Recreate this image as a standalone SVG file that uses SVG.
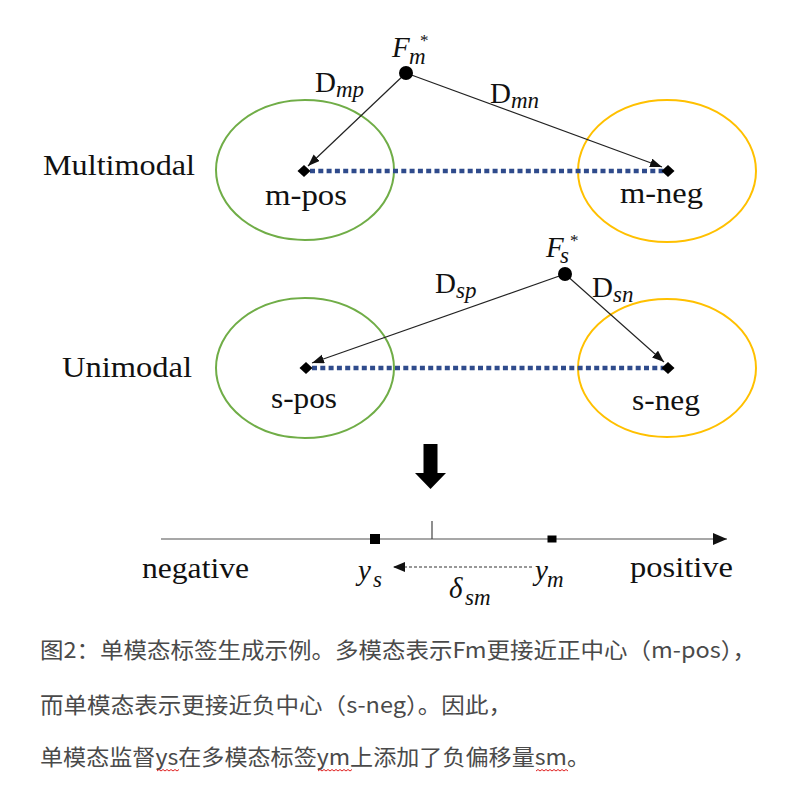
<svg xmlns="http://www.w3.org/2000/svg" width="786" height="797" viewBox="0 0 786 797">
<style>
  .serif { font-family: "Liberation Serif", "Times New Roman", serif; fill: #111; }
  .lbl { font-size: 29px; }
  .it { font-style: italic; }
  .sub { font-size: 23px; font-style: italic; }
  .pos { fill: none; stroke: #70AD47; stroke-width: 2; }
  .neg { fill: none; stroke: #FFC000; stroke-width: 2; }
  .link { stroke: #222; stroke-width: 1.2; fill: none; }
  .dotted { stroke: #2F4B8C; stroke-width: 4.5; stroke-dasharray: 5 3.3; fill: none; }
  .cap { font-family: "Noto Sans CJK SC", "Noto Sans", sans-serif; font-size: 22px; fill: #4a4a4a; }
  .squig { stroke: #e02020; stroke-width: 1; fill: none; }
</style>
<defs>
  <marker id="ah" markerUnits="userSpaceOnUse" markerWidth="14" markerHeight="10" refX="12" refY="4.5" orient="auto">
    <path d="M0,0 L12,4.5 L0,9 z" fill="#111"/>
  </marker>
  <marker id="axh" markerUnits="userSpaceOnUse" markerWidth="16" markerHeight="14" refX="14" refY="6" orient="auto">
    <path d="M0,0 L14,6 L0,12 z" fill="#111"/>
  </marker>
  <marker id="dh" markerUnits="userSpaceOnUse" markerWidth="14" markerHeight="12" refX="12" refY="5" orient="auto">
    <path d="M0,0 L12,5 L0,10 z" fill="#111"/>
  </marker>
</defs>

<rect width="786" height="797" fill="#ffffff"/>

<!-- row labels -->
<g id="label-multimodal"><text class="serif lbl" x="43" y="175" textLength="152" lengthAdjust="spacingAndGlyphs">Multimodal</text></g>
<g id="label-unimodal"><text class="serif lbl" x="62" y="377" textLength="130" lengthAdjust="spacingAndGlyphs">Unimodal</text></g>

<!-- clusters -->
<g id="m-pos-cluster">
  <ellipse class="pos" cx="305" cy="170" rx="89" ry="70"/>
  <text class="serif lbl" x="265" y="205" textLength="82" lengthAdjust="spacingAndGlyphs">m-pos</text>
</g>
<g id="m-neg-cluster">
  <ellipse class="neg" cx="667" cy="171" rx="89" ry="71"/>
  <text class="serif lbl" x="620" y="203" textLength="83" lengthAdjust="spacingAndGlyphs">m-neg</text>
</g>
<g id="s-pos-cluster">
  <ellipse class="pos" cx="305" cy="368" rx="89" ry="70"/>
  <text class="serif lbl" x="271" y="408" textLength="66" lengthAdjust="spacingAndGlyphs">s-pos</text>
</g>
<g id="s-neg-cluster">
  <ellipse class="neg" cx="667" cy="368" rx="89" ry="69"/>
  <text class="serif lbl" x="632" y="410" textLength="68" lengthAdjust="spacingAndGlyphs">s-neg</text>
</g>

<!-- connectors -->
<g id="connectors">
  <line class="dotted" x1="310" y1="171" x2="664" y2="171"/>
  <line class="dotted" x1="312" y1="368" x2="664" y2="368"/>
  <line class="link" x1="406" y1="73" x2="308" y2="166" marker-end="url(#ah)"/>
  <line class="link" x1="406" y1="73" x2="662" y2="167" marker-end="url(#ah)"/>
  <line class="link" x1="565" y1="274" x2="312" y2="363" marker-end="url(#ah)"/>
  <line class="link" x1="565" y1="274" x2="664" y2="362" marker-end="url(#ah)"/>
</g>

<!-- center points -->
<g id="centers">
  <path d="M304,165 L310.5,171 L304,177 L297.5,171 z" fill="#000"/>
  <path d="M668,165 L674.5,171 L668,177 L661.5,171 z" fill="#000"/>
  <path d="M306,362 L312.5,368 L306,374 L299.5,368 z" fill="#000"/>
  <path d="M668,362 L674.5,368 L668,374 L661.5,368 z" fill="#000"/>
</g>

<!-- features -->
<g id="Fm">
  <circle cx="406" cy="73" r="7" fill="#000"/>
  <text class="serif it" font-size="29"><tspan x="392" y="57">F</tspan><tspan x="409" y="64" font-size="23">m</tspan><tspan x="420" y="46" font-size="17" font-style="normal">*</tspan></text>
</g>
<g id="Fs">
  <circle cx="565" cy="274" r="7" fill="#000"/>
  <text class="serif it" font-size="29"><tspan x="546" y="257">F</tspan><tspan x="560" y="263" font-size="23">s</tspan><tspan x="570" y="246" font-size="17" font-style="normal">*</tspan></text>
</g>

<!-- distance labels -->
<g id="dist-labels">
  <text class="serif lbl" x="315" y="92">D<tspan class="sub" dy="5">mp</tspan></text>
  <text class="serif lbl" x="490" y="103">D<tspan class="sub" dy="5">mn</tspan></text>
  <text class="serif lbl" x="435" y="293">D<tspan class="sub" dy="5">sp</tspan></text>
  <text class="serif lbl" x="592" y="297">D<tspan class="sub" dy="5">sn</tspan></text>
</g>

<!-- down arrow -->
<g id="down-arrow">
  <path d="M423.5,444 L437.5,444 L437.5,473 L446,473 L430.5,489 L415,473 L423.5,473 z" fill="#000"/>
</g>

<!-- axis -->
<g id="axis">
  <line x1="161" y1="539" x2="727" y2="539" stroke="#8a8a8a" stroke-width="1.6" marker-end="url(#axh)"/>
  <line x1="432" y1="521" x2="432" y2="539" stroke="#444" stroke-width="1.2"/>
  <rect x="370" y="534" width="10" height="10" fill="#000"/>
  <rect x="547.5" y="535.5" width="9" height="7" fill="#000"/>
  <text class="serif lbl" x="142" y="578" textLength="107" lengthAdjust="spacingAndGlyphs">negative</text>
  <text class="serif lbl" x="630" y="577" textLength="103" lengthAdjust="spacingAndGlyphs">positive</text>
  <text class="serif it" font-size="29"><tspan x="358" y="580">y</tspan><tspan x="373" y="587" font-size="23">s</tspan></text>
  <text class="serif it" font-size="29"><tspan x="535" y="580">y</tspan><tspan x="547" y="587" font-size="23">m</tspan></text>
  <text class="serif it" font-size="29"><tspan x="449" y="598">δ</tspan><tspan x="465" y="605" font-size="23">sm</tspan></text>
</g>

<g id="offset-arrow">
  <line x1="532" y1="567" x2="393" y2="567" stroke="#333" stroke-width="1.1" stroke-dasharray="3 2" marker-end="url(#dh)"/>
</g>

<!-- caption -->
<g id="caption">
  <text class="cap" x="40" y="658" textLength="716" lengthAdjust="spacingAndGlyphs">图2：单模态标签生成示例。多模态表示Fm更接近正中心（m-pos），</text>
  <text class="cap" x="40" y="713" textLength="472" lengthAdjust="spacingAndGlyphs">而单模态表示更接近负中心（s-neg）。因此，</text>
  <text class="cap" x="40" y="765" textLength="550" lengthAdjust="spacingAndGlyphs">单模态监督ys在多模态标签ym上添加了负偏移量sm。</text>
  <path class="squig" d="M157,771 l2,-1.5 l2,1.5 l2,-1.5 l2,1.5 l2,-1.5 l2,1.5 l2,-1.5 l2,1.5 l2,-1.5 l2,1.5 l2,-1.5"/>
  <path class="squig" d="M318,771 l2,-1.5 l2,1.5 l2,-1.5 l2,1.5 l2,-1.5 l2,1.5 l2,-1.5 l2,1.5 l2,-1.5 l2,1.5 l2,-1.5 l2,1.5 l2,-1.5 l2,1.5 l2,-1.5 l2,1.5 l2,-1.5"/>
  <path class="squig" d="M536,771 l2,-1.5 l2,1.5 l2,-1.5 l2,1.5 l2,-1.5 l2,1.5 l2,-1.5 l2,1.5 l2,-1.5 l2,1.5 l2,-1.5 l2,1.5 l2,-1.5 l2,1.5 l2,-1.5 l2,1.5"/>
</g>
</svg>
